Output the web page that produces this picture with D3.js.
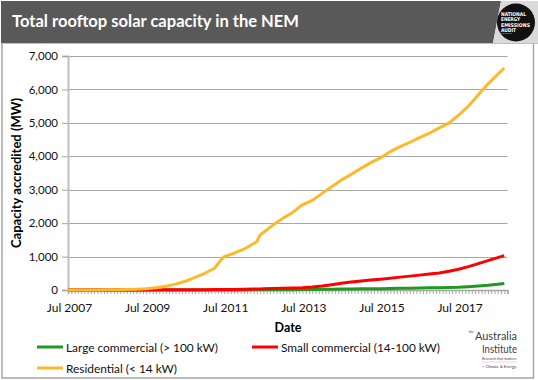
<!DOCTYPE html>
<html>
<head>
<meta charset="utf-8">
<script src="https://cdn.jsdelivr.net/npm/d3@7"></script>
<style>
    html, body { margin: 0; padding: 0; background: #fff; }
    svg { display: block; font-family: Lato, "Open Sans", sans-serif; }
</style>
</head>
<body>
<svg id="chart" width="538" height="380"></svg>
<script>
// Total rooftop solar capacity in the NEM - cumulative MW by segment

const dates = [
    '2007-07', '2007-10', '2008-01', '2008-04', '2008-07', '2008-10', '2009-01', '2009-04', '2009-07', '2009-10',
    '2010-01', '2010-04', '2010-07', '2010-10', '2011-01', '2011-04', '2011-06', '2011-07', '2011-10', '2012-01',
    '2012-04', '2012-05', '2012-06', '2012-07', '2012-10', '2013-01', '2013-04', '2013-07', '2013-10', '2014-01',
    '2014-04', '2014-07', '2014-10', '2015-01', '2015-04', '2015-07', '2015-10', '2016-01', '2016-04', '2016-07',
    '2016-10', '2017-01', '2017-04', '2017-07', '2017-10', '2018-01', '2018-04', '2018-07', '2018-09'
];

const largeCommercial = [
    0, 0, 0, 0, 0, 0, 0, 0, 0, 1,
    1, 1, 1, 1, 2, 2, 2, 2, 3, 3,
    4, 4, 4, 5, 6, 8, 10, 13, 16, 19,
    23, 27, 30, 34, 37, 41, 45, 50, 55, 60,
    65, 70, 77, 85, 100, 120, 140, 170, 195
];

const smallCommercial = [
    0, 0, 0, 1, 1, 2, 2, 3, 3, 4,
    5, 6, 7, 9, 10, 12, 13, 15, 18, 22,
    28, 30, 32, 35, 42, 50, 58, 70, 90, 120,
    160, 200, 240, 270, 300, 325, 355, 385, 415, 445,
    480, 510, 560, 620, 700, 790, 880, 970, 1030
];

const residential = [
    0, 1, 2, 3, 5, 9, 15, 25, 40, 65,
    110, 175, 260, 380, 500, 650, 900, 1000, 1100, 1220,
    1390, 1450, 1650, 1720, 1950, 2150, 2320, 2550, 2680, 2890,
    3090, 3290, 3460, 3640, 3810, 3950, 4140, 4290, 4420, 4560,
    4690, 4850, 4990, 5230, 5500, 5840, 6160, 6450, 6640
];

const seriesNames = ['Large commercial (> 100 kW)', 'Small commercial (14-100 kW)', 'Residential (< 14 kW)'];
const seriesColors = ['#1e9a1e', '#ff0000', '#fdb92a'];
const yTicks = [0, 1000, 2000, 3000, 4000, 5000, 6000, 7000];
const xLabelDates = ['2007-07', '2009-07', '2011-07', '2013-07', '2015-07', '2017-07'];

const parseMonth = d3.timeParse('%Y-%m');
const fmtLabel = d3.timeFormat('%b %Y');

const svg = d3.select('#chart');

// plot box
const plotLeft = 68, plotRight = 507.5, plotTop = 56, plotBottom = 290;

const x = d3.scaleTime()
    .domain([parseMonth('2007-07'), parseMonth('2018-10')])
    .range([plotLeft, plotRight]);

const y = d3.scaleLinear()
    .domain([0, 7000])
    .range([plotBottom, plotTop]);

// frame below the title bar
svg.append('rect')
    .attr('x', 2).attr('y', 2)
    .attr('width', 531.5).attr('height', 376)
    .attr('fill', '#fff')
    .attr('stroke', '#a6a6a6')
    .attr('stroke-width', 1.5);

// title bar
svg.append('polygon')
    .attr('points', '1,1 501,1 493,43 1,43')
    .attr('fill', '#595959');
svg.append('polygon')
    .attr('points', '501,1 538,1 538,43 493,43')
    .attr('fill', '#d9d9d9');
svg.append('line')
    .attr('x1', 1).attr('x2', 538)
    .attr('y1', 43.5).attr('y2', 43.5)
    .attr('stroke', '#bfbfbf');

svg.append('text')
    .attr('x', 12).attr('y', 27)
    .attr('fill', '#fff')
    .attr('font-size', 17)
    .attr('font-weight', 'bold')
    .attr('textLength', 287)
    .attr('lengthAdjust', 'spacingAndGlyphs')
    .text('Total rooftop solar capacity in the NEM');

// NEEA badge
svg.append('circle')
    .attr('cx', 516).attr('cy', 22.5).attr('r', 19)
    .attr('fill', '#111');
const badgeWords = ['NATIONAL', 'ENERGY', 'EMISSIONS', 'AUDIT'];
const badgeWidths = [25, 19, 29, 15];
badgeWords.forEach((t, i) => {
    svg.append('text')
        .attr('x', 501).attr('y', 16 + i * 5.4)
        .attr('fill', '#fff')
        .attr('font-size', 5.2)
        .attr('font-weight', 'bold')
        .attr('font-family', '"DejaVu Sans Condensed", "DejaVu Sans", sans-serif')
        .attr('textLength', badgeWidths[i])
        .attr('lengthAdjust', 'spacingAndGlyphs')
        .text(t);
});
svg.append('line')
    .attr('x1', 501).attr('x2', 512)
    .attr('y1', 33.5).attr('y2', 33.5)
    .attr('stroke', '#e0301e').attr('stroke-width', 0.8);

// gridlines
svg.append('g')
    .selectAll('line')
    .data(yTicks.filter(d => d > 0))
    .join('line')
    .attr('x1', plotLeft).attr('x2', plotRight)
    .attr('y1', d => Math.round(y(d)) + 0.5)
    .attr('y2', d => Math.round(y(d)) + 0.5)
    .attr('stroke', '#a6a6a6');

// y axis
const yAxis = svg.append('g')
    .attr('transform', `translate(${plotLeft},0)`)
    .call(d3.axisLeft(y).tickValues(yTicks).tickSize(6).tickPadding(4).tickFormat(d3.format(',')));
yAxis.select('.domain').attr('stroke', '#bfbfbf').attr('stroke-width', 2);
yAxis.selectAll('.tick line').attr('stroke', '#a6a6a6');
yAxis.selectAll('.tick text')
    .attr('font-size', 11.5)
    .attr('font-family', 'Lato, sans-serif')
    .attr('fill', '#111');

// x axis with monthly minor ticks
const xAxis = svg.append('g')
    .attr('transform', `translate(0,${plotBottom})`)
    .call(d3.axisBottom(x).ticks(d3.timeMonth.every(1)).tickSize(4).tickFormat(''));
xAxis.select('.domain').attr('stroke', '#a6a6a6').attr('stroke-width', 1.5);
xAxis.selectAll('.tick line').attr('stroke', '#a6a6a6');

svg.append('g')
    .selectAll('text')
    .data(xLabelDates.map(parseMonth))
    .join('text')
    .attr('x', d => x(d) + 1.5)
    .attr('y', 312)
    .attr('text-anchor', 'middle')
    .attr('font-size', 12)
    .attr('fill', '#111')
    .text(d => fmtLabel(d));

// axis titles
svg.append('text')
    .attr('x', 288).attr('y', 332)
    .attr('text-anchor', 'middle')
    .attr('font-size', 12.5)
    .attr('font-weight', 'bold')
    .text('Date');

svg.append('text')
    .attr('transform', 'translate(21,173) rotate(-90)')
    .attr('text-anchor', 'middle')
    .attr('font-size', 12.5)
    .attr('font-weight', 'bold')
    .attr('textLength', 150)
    .attr('lengthAdjust', 'spacingAndGlyphs')
    .text('Capacity accredited (MW)');

// lines
const series = [largeCommercial, smallCommercial, residential];
const line = d3.line()
    .x((d, i) => x(parseMonth(dates[i])))
    .y(d => y(d));

svg.append('g')
    .selectAll('path')
    .data(series)
    .join('path')
    .attr('d', d => line(d))
    .attr('fill', 'none')
    .attr('stroke', (d, i) => seriesColors[i])
    .attr('stroke-width', 3)
    .attr('stroke-linejoin', 'round');

// legend
const legendPos = [
    { x: 37, y: 347, w: 152 },
    { x: 252, y: 347, w: 159 },
    { x: 37, y: 368, w: 111 }
];
const legend = svg.append('g')
    .selectAll('g')
    .data(seriesNames)
    .join('g')
    .attr('transform', (d, i) => `translate(${legendPos[i].x},${legendPos[i].y})`);
legend.append('line')
    .attr('x1', 0).attr('x2', 26)
    .attr('stroke', (d, i) => seriesColors[i])
    .attr('stroke-width', 3);
legend.append('text')
    .attr('x', 29).attr('y', 4.5)
    .attr('font-size', 12)
    .attr('fill', '#111')
    .attr('textLength', (d, i) => legendPos[i].w)
    .attr('lengthAdjust', 'spacingAndGlyphs')
    .text(d => d);

// The Australia Institute mark
const tai = svg.append('g').attr('fill', '#404040');
tai.append('text').attr('x', 474).attr('y', 333).attr('text-anchor', 'end')
    .attr('font-size', 3.6).text('the');
tai.append('text').attr('x', 517).attr('y', 340).attr('text-anchor', 'end')
    .attr('font-size', 10.5).attr('textLength', 42).attr('lengthAdjust', 'spacingAndGlyphs').text('Australia');
tai.append('text').attr('x', 517).attr('y', 352.6).attr('text-anchor', 'end')
    .attr('font-size', 10.5).attr('textLength', 35).attr('lengthAdjust', 'spacingAndGlyphs').text('Institute');
tai.append('text').attr('x', 517).attr('y', 359.5).attr('text-anchor', 'end')
    .attr('font-size', 4.2).attr('textLength', 35).attr('lengthAdjust', 'spacingAndGlyphs').text('Research that matters.');
svg.append('line').attr('x1', 482).attr('x2', 517).attr('y1', 362).attr('y2', 362)
    .attr('stroke', '#bbb').attr('stroke-width', 0.5);
tai.append('text').attr('x', 517).attr('y', 368).attr('text-anchor', 'end')
    .attr('font-size', 4.2).attr('textLength', 35).attr('lengthAdjust', 'spacingAndGlyphs').text('> Climate & Energy.');
</script>
</body>
</html>
